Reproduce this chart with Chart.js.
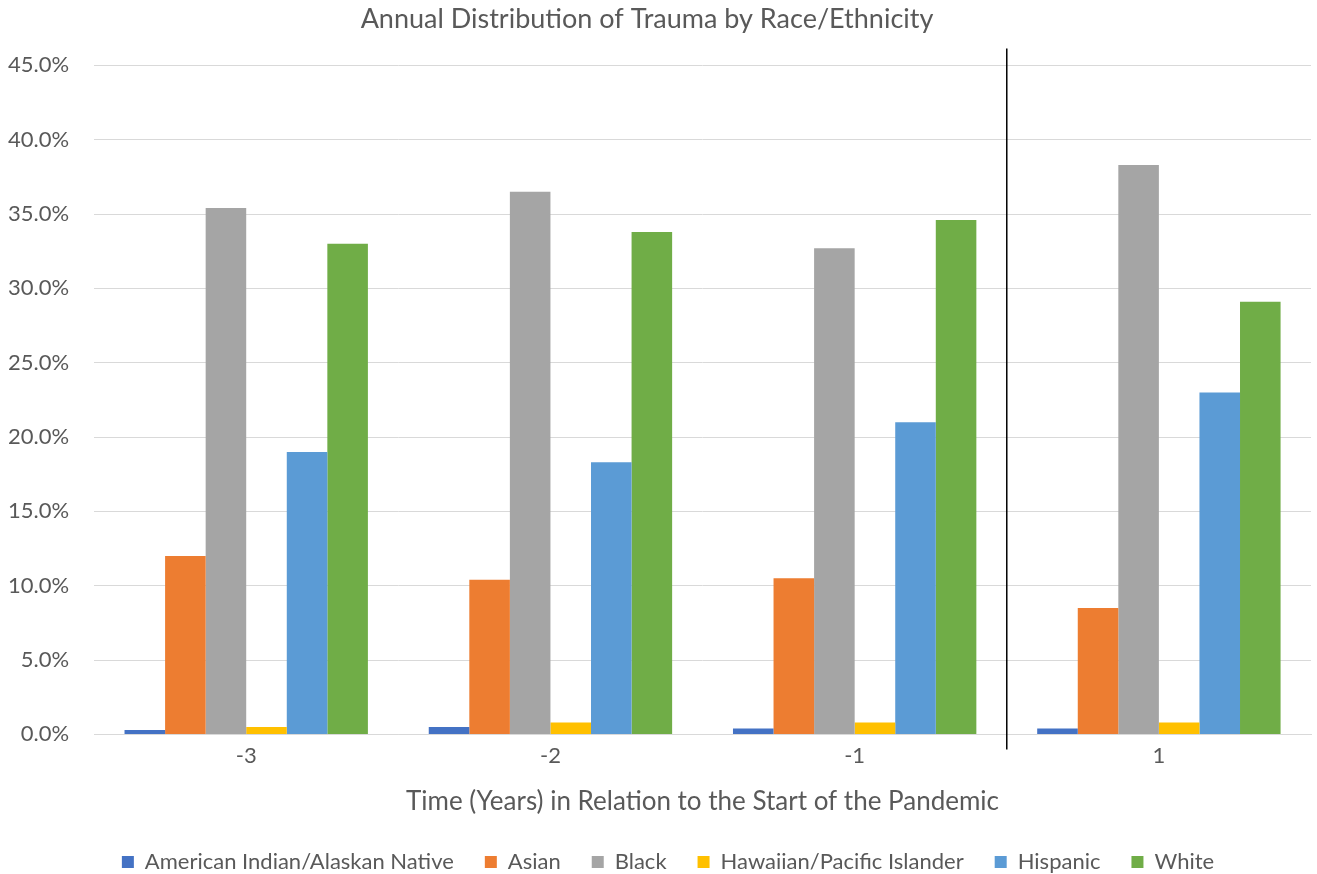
<!DOCTYPE html>
<html>
<head>
<meta charset="utf-8">
<script src="https://cdn.jsdelivr.net/npm/chart.js@4.4.1/dist/chart.umd.min.js"></script>
<style>
  html, body { margin: 0; padding: 0; background: #fff; }
  #wrap { width: 1317px; height: 874px; }
</style>
</head>
<body>
<div id="wrap"><canvas id="traumaChart" width="1317" height="874"></canvas></div>
<script>
// ====== DATA ======
const years = ['-3', '-2', '-1', '1'];
const americanIndian = [0.3, 0.5, 0.4, 0.4];
const asian = [12.0, 10.4, 10.5, 8.5];
const black = [35.4, 36.5, 32.7, 38.3];
const hawaiian = [0.5, 0.8, 0.8, 0.8];
const hispanic = [19.0, 18.3, 21.0, 23.0];
const white = [33.0, 33.8, 34.6, 29.1];

const FONT = 'Lato, "Open Sans", sans-serif';
const GREY = '#595959';

// vertical line marking the start of the pandemic (between -1 and 1)
const pandemicLine = {
  id: 'pandemicLine',
  afterDatasetsDraw(chart) {
    const x = chart.scales.x;
    const area = chart.chartArea;
    const px = (x.getPixelForValue(2) + x.getPixelForValue(3)) / 2;
    const ctx = chart.ctx;
    ctx.save();
    ctx.strokeStyle = '#000';
    ctx.lineWidth = 1.5;
    ctx.beginPath();
    ctx.moveTo(px, area.top - 17);
    ctx.lineTo(px, area.bottom + 15);
    ctx.stroke();
    ctx.restore();
  }
};

// nudge the legend a bit to the right, like the original
const legendShift = {
  id: 'legendShift',
  afterLayout(chart) {
    if (chart.legend) {
      chart.legend.left += 21;
      chart.legend.right += 21;
    }
  }
};

const ctx = document.getElementById('traumaChart').getContext('2d');
new Chart(ctx, {
  type: 'bar',
  data: {
    labels: years,
    datasets: [
      { label: 'American Indian/Alaskan Native', data: americanIndian, backgroundColor: '#4472c4' },
      { label: 'Asian', data: asian, backgroundColor: '#ed7d31' },
      { label: 'Black', data: black, backgroundColor: '#a5a5a5' },
      { label: 'Hawaiian/Pacific Islander', data: hawaiian, backgroundColor: '#ffc000' },
      { label: 'Hispanic', data: hispanic, backgroundColor: '#5b9bd5' },
      { label: 'White', data: white, backgroundColor: '#70ad47' }
    ]
  },
  options: {
    responsive: false,
    animation: false,
    datasets: { bar: { barPercentage: 1, categoryPercentage: 0.8 } },
    layout: { padding: { left: -17, right: 6, top: 0, bottom: -9 } },
    plugins: {
      title: {
        display: true,
        text: 'Annual Distribution of Trauma by Race/Ethnicity',
        color: GREY,
        font: { family: FONT, size: 27, weight: 'normal' },
        padding: { top: 3, bottom: 30 }
      },
      legend: {
        position: 'bottom',
        labels: {
          color: GREY,
          font: { family: FONT, size: 22 },
          boxWidth: 12,
          boxHeight: 12,
          padding: 31
        }
      },
      tooltip: { enabled: false }
    },
    scales: {
      x: {
        grid: { display: false },
        border: { color: '#d9d9d9' },
        ticks: { color: GREY, font: { family: FONT, size: 22 }, padding: 0 },
        title: {
          display: true,
          text: 'Time (Years) in Relation to the Start of the Pandemic',
          color: GREY,
          font: { family: FONT, size: 26 },
          padding: { top: 17, bottom: 3 }
        }
      },
      y: {
        min: 0,
        max: 45,
        border: { display: false },
        grid: { color: '#d9d9d9', drawTicks: false },
        ticks: {
          stepSize: 5,
          color: GREY,
          font: { family: FONT, size: 22 },
          padding: 25,
          callback: v => v.toFixed(1) + '%'
        }
      }
    }
  },
  plugins: [pandemicLine, legendShift]
});
</script>
</body>
</html>
